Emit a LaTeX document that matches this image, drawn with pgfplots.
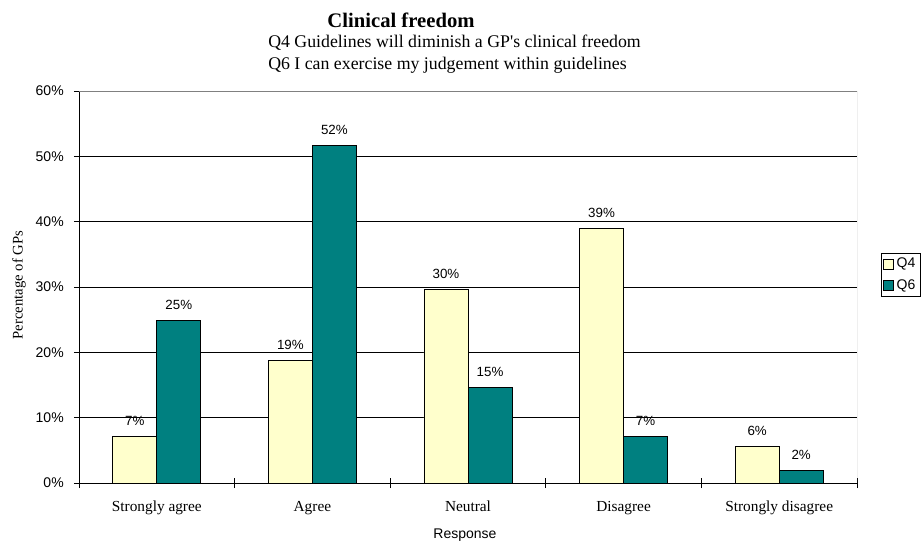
\documentclass[border=0pt]{standalone}
\usepackage{fontspec}
\setmainfont{Liberation Serif}[Ligatures=TeXOff]
\setsansfont{Liberation Sans}
\usepackage{pgfplots}
\pgfplotsset{compat=1.18}
\definecolor{qfour}{HTML}{FFFFCC}
\definecolor{qsix}{HTML}{008080}
\begin{document}
\begin{tikzpicture}
\useasboundingbox (-59.25pt,-48pt) rectangle (633.75pt,362.25pt);
\begin{axis}[
  at={(0pt,0pt)}, anchor=south west,
  scale only axis, width=583.5pt, height=294pt,
  xmin=-0.5, xmax=4.5, ymin=0, ymax=60,
  axis x line*=bottom, axis y line*=left,
  axis line style={black, line width=0.6pt},
  /pgf/number format/assume math mode=true,
  tick align=center, major tick length=7.5pt,
  tick style={black, line width=0.6pt},
  xtick={-0.5,0.5,1.5,2.5,3.5,4.5}, xticklabels={},
  extra x ticks={0,1,2,3,4},
  extra x tick labels={Strongly agree, Agree, Neutral, Disagree, Strongly disagree},
  extra x tick style={major tick length=0pt,
     xticklabel style={font=\fontsize{11.5}{13}\selectfont, anchor=base, yshift=-21pt, inner sep=0pt}},
  ytick={0,10,...,60},
  yticklabel={\pgfmathprintnumber{\tick}\%},
  yticklabel style={font=\sffamily\fontsize{10.5}{12}\selectfont, anchor=east, inner sep=0pt, xshift=-7.5pt},
  ymajorgrids, grid style={black, line width=0.5pt},
  legend style={at={(1.0308,0.5867)}, anchor=north west, draw=black, line width=0.6pt,
     font=\sffamily\fontsize{10.5}{12}\selectfont, inner sep=1.5pt, row sep=3.5pt},
  legend cell align=left,
  legend image code/.code={\draw[#1, draw=black, line width=0.5pt] (0pt,-3.75pt) rectangle (7.5pt,3.75pt);},
  nodes near coords={\pgfmathprintnumber[fixed,precision=0]{\pgfplotspointmeta}\%},
  nodes near coords style={font=\sffamily\fontsize{10}{12}\selectfont, anchor=base, yshift=8.25pt, inner sep=0pt, text=black},
]
\addplot[ybar, bar width=0.283, bar shift=-0.1415, fill=qfour, draw=black, line width=0.6pt,
  every node near coord/.append style={xshift=-16.51pt}]
  coordinates {(0,7.1) (1,18.8) (2,29.6) (3,38.9) (4,5.6)};
\addlegendentry{Q4}
\addplot[ybar, bar width=0.283, bar shift=0.1415, fill=qsix, draw=black, line width=0.6pt,
  every node near coord/.append style={xshift=16.51pt}]
  coordinates {(0,24.9) (1,51.6) (2,14.6) (3,7.1) (4,1.9)};
\addlegendentry{Q6}
\draw[gray, line width=0.6pt] (rel axis cs:0,1) -- (rel axis cs:1,1) -- (rel axis cs:1,0);
\end{axis}
\node[anchor=base, font=\bfseries\fontsize{15.5}{18}\selectfont] at (241.5pt,341.25pt) {Clinical freedom};
\node[anchor=base west, inner sep=0pt, font=\fontsize{13.35}{15}\selectfont] at (141.75pt,326.25pt) {Q4 Guidelines will diminish a GP's clinical freedom};
\node[anchor=base west, inner sep=0pt, font=\fontsize{13.35}{15}\selectfont] at (141.75pt,309.75pt) {Q6 I can exercise my judgement within guidelines};
\node[rotate=90, font=\fontsize{11}{13}\selectfont] at (-45pt,148.5pt) {Percentage of GPs};
\node[anchor=base, font=\sffamily\fontsize{10.5}{12}\selectfont] at (289.5pt,-41.25pt) {Response};
\end{tikzpicture}
\end{document}
